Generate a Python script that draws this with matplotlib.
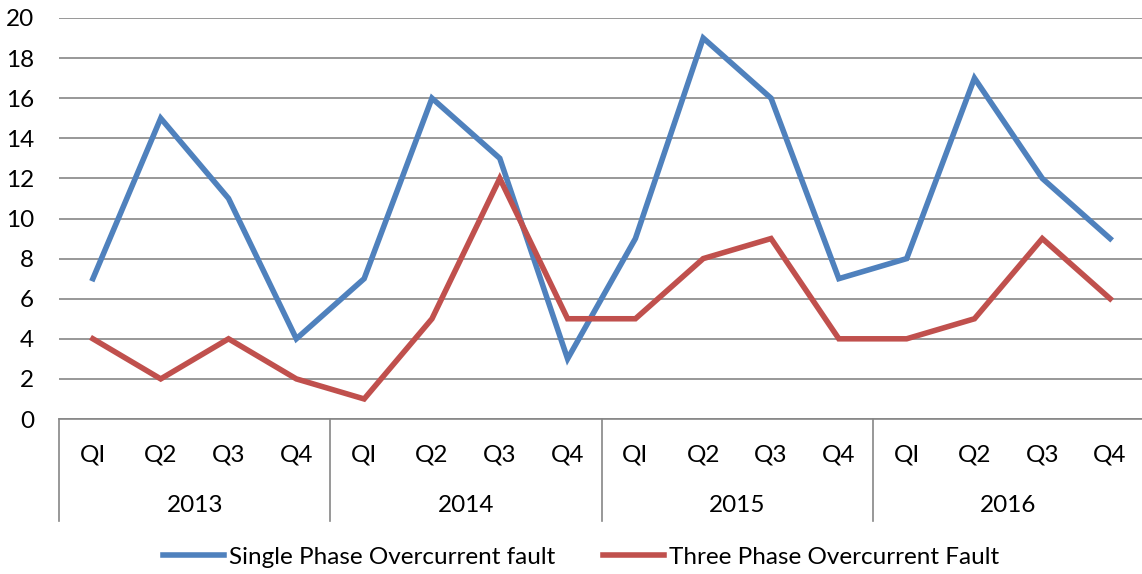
import matplotlib
matplotlib.use("Agg")
import matplotlib.pyplot as plt
from matplotlib.transforms import blended_transform_factory

plt.rcParams['font.family'] = ['Lato', 'DejaVu Sans']

years = ["2013", "2014", "2015", "2016"]
quarters = ["QI", "Q2", "Q3", "Q4"]
single_phase = [7, 15, 11, 4, 7, 16, 13, 3, 9, 19, 16, 7, 8, 17, 12, 9]
three_phase = [4, 2, 4, 2, 1, 5, 12, 5, 5, 8, 9, 4, 4, 5, 9, 6]
series_names = ["Single Phase Overcurrent fault", "Three Phase Overcurrent Fault"]
colors = ["#4F81BD", "#C0504D"]
yticks = list(range(0, 21, 2))

FS = 17.5
W, H = 1142, 574
fig = plt.figure(figsize=(W / 100, H / 100), dpi=100)
ax = fig.add_axes([59 / W, 1 - 419 / H, (1144 - 59) / W, (419 - 18) / H])

n = len(single_phase)
x = list(range(n))
ax.plot(x, single_phase, color=colors[0], lw=4.0, label=series_names[0], solid_joinstyle='miter', zorder=3)
ax.plot(x, three_phase, color=colors[1], lw=4.0, label=series_names[1], solid_joinstyle='miter', zorder=3)

ax.set_xlim(-0.5, n - 0.5)
ax.set_ylim(0, 20)
ax.set_yticks(yticks)
ax.set_yticklabels([str(v) for v in yticks], fontsize=FS)
ax.tick_params(axis='y', length=0, pad=18)
ax.set_xticks([])
for s in ['left', 'right', 'top']:
    ax.spines[s].set_visible(False)
ax.spines['bottom'].set_color('#868686')
ax.spines['bottom'].set_linewidth(1.2)
ax.yaxis.grid(True, color='#868686', lw=1.2)
ax.set_axisbelow(True)

trans = blended_transform_factory(ax.transData, ax.transAxes)
ah = 419 - 18
qy = -(455 - 419) / ah
yy = -(505 - 419) / ah
sep_bottom = -(521 - 419) / ah
for yi, yr in enumerate(years):
    for qi, q in enumerate(quarters):
        ax.text(yi * 4 + qi, qy, q, transform=trans, ha='center', va='center', fontsize=FS, clip_on=False)
    ax.text(yi * 4 + 1.5, yy, yr, transform=trans, ha='center', va='center', fontsize=FS, clip_on=False)
for b in range(len(years) + 1):
    ax.plot([b * 4 - 0.5, b * 4 - 0.5], [0, sep_bottom], transform=trans, color='#868686', lw=1.2, clip_on=False)

fig.legend(loc='center', bbox_to_anchor=(581 / W, 1 - 557 / H), ncol=2, frameon=False,
           fontsize=FS, handlelength=2.5, handletextpad=0.2, columnspacing=2.0)

fig.savefig("out.png", dpi=100)
